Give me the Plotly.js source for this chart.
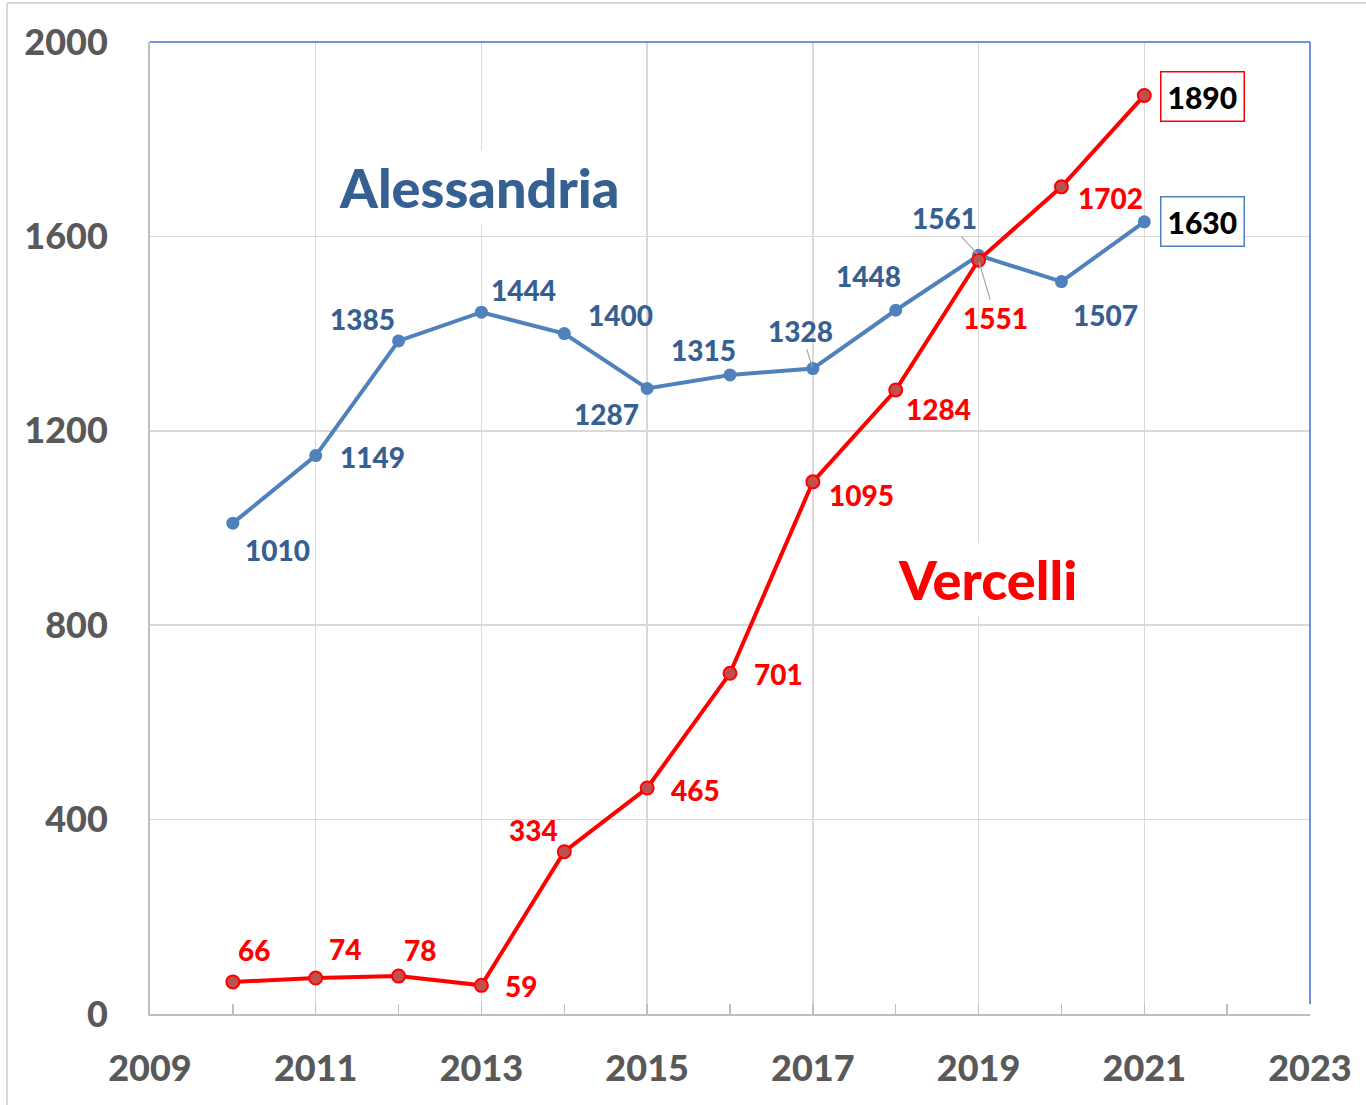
<!DOCTYPE html>
<html>
<head>
<meta charset="utf-8">
<script src="https://cdn.plot.ly/plotly-3.0.1.min.js"></script>
<style>html,body{margin:0;padding:0;background:#fff;}#chart{width:1366px;height:1105px;}</style>
</head>
<body>
<div id="chart"></div>
<script>
// ---- data ----
const years = [2010, 2011, 2012, 2013, 2014, 2015, 2016, 2017, 2018, 2019, 2020, 2021];
const alessandria = [1010, 1149, 1385, 1444, 1400, 1287, 1315, 1328, 1448, 1561, 1507, 1630];
const vercelli = [66, 74, 78, 59, 334, 465, 701, 1095, 1284, 1551, 1702, 1890];
const seriesNames = ["Alessandria", "Vercelli"];
const xTickRange = [2009, 2023];
const yTickRange = [0, 2000];

// ---- styles ----
const FONT = "Lato, 'Open Sans', 'Liberation Sans', sans-serif";
const W = 900;
const BLUE_LINE = "#4F81BD";
const BLUE_TEXT = "#376092";
const RED = "#FF0000";
const RED_FILL = "#C0504D";
const GRID = "#D9D9D9";
const AXIS = "#BFBFBF";
const TICKTXT = "#595959";

// label offsets in pixels [dx, dy(down positive)]; leader = draw gray leader line
const alesOff = [[45,27],[57,1],[-36,-22],[42,-22],[56,-19],[-41,25],[-27,-25],[-12,-38],[-27,-34],[-34,-37],[44,33],[58,0]];
const alesLeader = [false,false,false,false,false,false,false,true,false,true,false,false];
const vercOff = [[21,-32],[29,-29],[21,-26],[40,1],[-31,-22],[48,2],[48,1],[49,13],[43,19],[17,58],[49,11],[58,1]];
const vercLeader = [false,false,false,false,false,false,false,false,false,true,false,false];

function makeLabels(xs, ys, offs, leaders, color, lastBorder) {
  return ys.map((v, i) => {
    const isLast = i === ys.length - 1;
    const a = {
      x: xs[i], y: v, xref: 'x', yref: 'y',
      text: String(v),
      font: {family: FONT, size: isLast ? 30 : 28, color: isLast ? '#000000' : color, weight: W},
      xanchor: 'center', yanchor: 'middle'
    };
    if (isLast) {
      a.bordercolor = lastBorder; a.borderwidth = 1.5; a.borderpad = 6; a.bgcolor = '#FFFFFF';
    }
    if (leaders[i]) {
      a.showarrow = true; a.ax = offs[i][0]; a.ay = offs[i][1];
      a.arrowhead = 0; a.arrowwidth = 1.2; a.arrowcolor = '#A6A6A6'; a.standoff = 2; a.startstandoff = 0;
    } else {
      a.showarrow = false; a.xshift = offs[i][0]; a.yshift = -offs[i][1];
    }
    return a;
  });
}

const traces = [
  {
    x: years, y: alessandria, name: seriesNames[0], type: 'scatter', mode: 'lines+markers',
    line: {color: BLUE_LINE, width: 4},
    marker: {color: BLUE_LINE, size: 13, line: {color: BLUE_LINE, width: 0}},
    cliponaxis: false
  },
  {
    x: years, y: vercelli, name: seriesNames[1], type: 'scatter', mode: 'lines+markers',
    line: {color: RED, width: 4},
    marker: {color: RED_FILL, size: 13, line: {color: RED, width: 2}},
    cliponaxis: false
  }
];

const annotations = []
  .concat(makeLabels(years, alessandria, alesOff, alesLeader, BLUE_TEXT, BLUE_LINE))
  .concat(makeLabels(years, vercelli, vercOff, vercLeader, RED, RED))
  .concat([
    {x: 0.284, y: 0.850, xref: 'paper', yref: 'paper', text: seriesNames[0], showarrow: false,
     font: {family: FONT, size: 54, color: BLUE_TEXT, weight: W}, bgcolor: '#FFFFFF', borderpad: 4,
     xanchor: 'center', yanchor: 'middle'},
    {x: 0.722, y: 0.447, xref: 'paper', yref: 'paper', text: seriesNames[1], showarrow: false,
     font: {family: FONT, size: 54, color: RED, weight: W}, bgcolor: '#FFFFFF', borderpad: 4,
     xanchor: 'center', yanchor: 'middle'}
  ]);

const layout = {
  width: 1366, height: 1105,
  margin: {l: 150, r: 56, t: 42, b: 91},
  paper_bgcolor: '#FFFFFF', plot_bgcolor: '#FFFFFF',
  showlegend: false,
  font: {family: FONT},
  xaxis: {
    range: xTickRange, tick0: 2009, dtick: 2,
    showgrid: true, gridcolor: GRID, gridwidth: 1.5,
    showline: true, linecolor: AXIS, linewidth: 2,
    ticks: 'inside', ticklen: 10, tickwidth: 1.5, tickcolor: AXIS,
    minor: {tick0: 2009, dtick: 1, ticks: 'inside', ticklen: 10, tickwidth: 1.5, tickcolor: AXIS, showgrid: false},
    tickfont: {family: FONT, size: 36, color: TICKTXT, weight: W},
    ticklabelstandoff: 22,
    zeroline: false, fixedrange: true
  },
  yaxis: {
    range: yTickRange, tick0: 0, dtick: 400,
    showgrid: true, gridcolor: GRID, gridwidth: 1.5,
    showline: true, linecolor: AXIS, linewidth: 2,
    ticks: '',
    tickfont: {family: FONT, size: 36, color: TICKTXT, weight: W},
    ticklabelstandoff: 33,
    zeroline: false, fixedrange: true
  },
  shapes: [
    {type: 'line', xref: 'paper', yref: 'paper', x0: 0, x1: 1, y0: 1, y1: 1, line: {color: '#4472C4', width: 1.5}},
    {type: 'line', xref: 'paper', yref: 'paper', x0: 1, x1: 1, y0: 0.01, y1: 1, line: {color: '#4472C4', width: 1.5}},
    {type: 'line', xref: 'paper', yref: 'paper', x0: -0.1233, x1: -0.1233, y0: -0.0936, y1: 1.0401, line: {color: GRID, width: 2}},
    {type: 'line', xref: 'paper', yref: 'paper', x0: -0.1233, x1: 1.0483, y0: 1.0401, y1: 1.0401, line: {color: GRID, width: 2}}
  ],
  annotations: annotations
};

Plotly.newPlot('chart', traces, layout, {displayModeBar: false, staticPlot: true});
</script>
</body>
</html>
